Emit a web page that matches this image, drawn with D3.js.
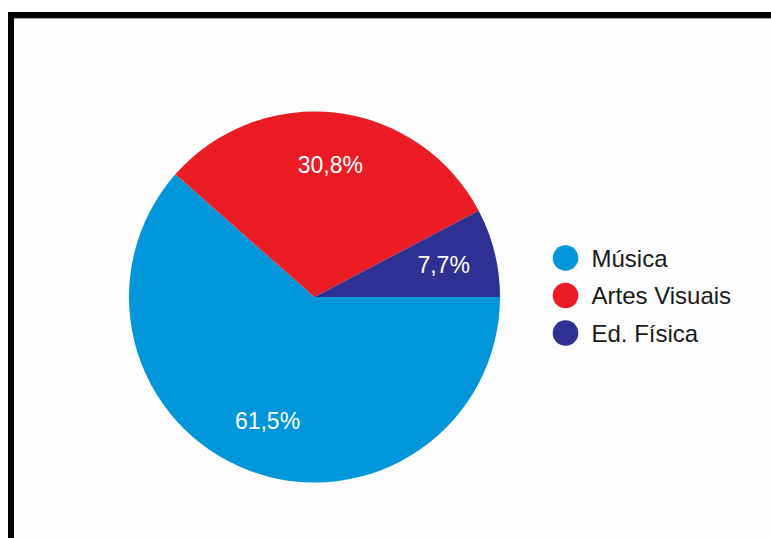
<!DOCTYPE html>
<html>
<head>
<meta charset="utf-8">
<script src="https://cdn.jsdelivr.net/npm/d3@7"></script>
<style>
  html, body { margin: 0; padding: 0; background: #fff; }
  svg { display: block; }
  text { font-family: "Liberation Sans", Arial, Helvetica, sans-serif; }
</style>
</head>
<body>
<svg id="chart" width="771" height="538"></svg>
<script>
const categories = ["Música", "Artes Visuais", "Ed. Física"];
const values = [61.5, 30.8, 7.7];
const labels = ["61,5%", "30,8%", "7,7%"];
const colors = ["#0096d9", "#ec1c24", "#2e3192"];

const W = 771, H = 538;
const svg = d3.select("#chart");

svg.append("rect").attr("x", 0).attr("y", 0).attr("width", W).attr("height", H).attr("fill", "#fff");

// frame
svg.append("rect")
  .attr("x", 11).attr("y", 15)
  .attr("width", W + 20).attr("height", H + 20)
  .attr("fill", "#fdfdfd")
  .attr("stroke", "#000").attr("stroke-width", 6);
svg.append("line").attr("x1", 14).attr("x2", W).attr("y1", 18.5).attr("y2", 18.5)
  .attr("stroke", "#aaa").attr("stroke-width", 1);

const cx = 314.5, cy = 297, R = 185.5;
const g = svg.append("g").attr("transform", `translate(${cx},${cy})`);

const data = categories.map((c, i) => ({ cat: c, value: values[i], label: labels[i], color: colors[i] }));

const pie = d3.pie().sort(null).value(d => d.value)
  .startAngle(Math.PI / 2).endAngle(Math.PI / 2 + 2 * Math.PI);
const arcs = pie(data);
const arc = d3.arc().innerRadius(0).outerRadius(R);
const labelArc = d3.arc().innerRadius(133).outerRadius(133);

g.selectAll("path.slice").data(arcs).enter().append("path")
  .attr("class", "slice")
  .attr("d", arc)
  .attr("fill", d => d.data.color);

g.selectAll("text.lbl").data(arcs).enter().append("text")
  .attr("class", "lbl")
  .attr("transform", d => { const [x, y] = labelArc.centroid(d); return `translate(${x},${y})`; })
  .attr("text-anchor", "middle")
  .attr("dominant-baseline", "central")
  .attr("fill", "#fff")
  .attr("font-size", 23)
  .text(d => d.data.label);

// legend
const legendY = d3.scalePoint().domain(categories).range([258, 333]);
const lg = svg.append("g");
const items = lg.selectAll("g.item").data(data).enter().append("g")
  .attr("class", "item")
  .attr("transform", d => `translate(565.5,${legendY(d.cat)})`);
items.append("circle").attr("r", 12.8).attr("fill", d => d.color);
items.append("text")
  .attr("x", 26).attr("y", 0)
  .attr("dominant-baseline", "central")
  .attr("font-size", 24)
  .attr("fill", "#1a1a1a")
  .text(d => d.cat);
</script>
</body>
</html>
